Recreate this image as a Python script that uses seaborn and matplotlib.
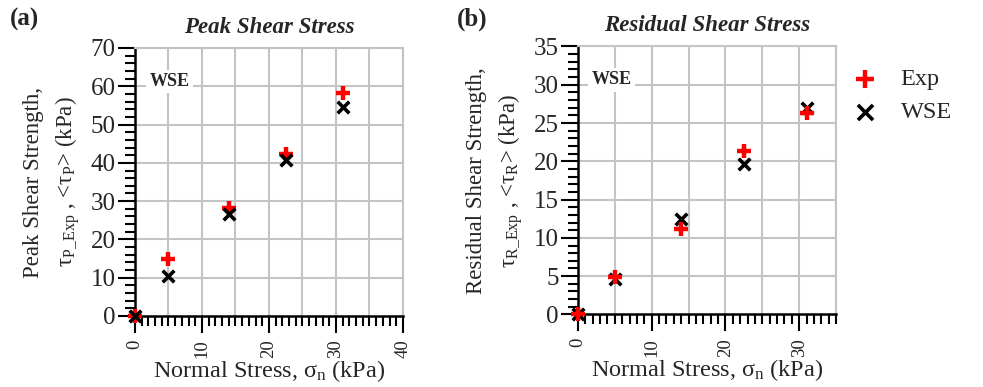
import numpy as np
import pandas as pd
import matplotlib
matplotlib.use("Agg")
import matplotlib.pyplot as plt
import seaborn as sns

sns.set_style("white")
plt.rcParams['font.family'] = ['Liberation Serif', 'DejaVu Serif']
plt.rcParams['mathtext.fontset'] = 'custom'
plt.rcParams['mathtext.rm'] = 'Liberation Serif'
plt.rcParams['mathtext.it'] = 'Liberation Serif:italic'

# values
sigma_n = [0, 5, 14, 22.5, 31]
peak_exp = [0, 15.0, 28.2, 42.2, 58.2]
peak_wse = [0, 10.4, 26.6, 40.8, 54.5]
resid_exp = [0, 4.9, 11.2, 21.3, 26.3]
resid_wse = [0, 4.6, 12.5, 19.7, 27.0]

peak = pd.DataFrame({'sigma': sigma_n, 'Exp': peak_exp, 'WSE': peak_wse})
resid = pd.DataFrame({'sigma': sigma_n, 'Exp': resid_exp, 'WSE': resid_wse})

fig = plt.figure(figsize=(9.83, 3.87), dpi=100)
ax1 = fig.add_axes([0.1373, 0.1835, 0.2726, 0.6925])
ax2 = fig.add_axes([0.588, 0.1875, 0.2625, 0.6925])

grid_c = '#c4c4c4'


def style_axis(ax, xmax, ymax, ymaj, ymin, ygrid):
    ax.set_xlim(0, xmax)
    ax.set_ylim(0, ymax)
    for v in np.arange(5, xmax + 0.1, 5):
        ax.axvline(v, color=grid_c, lw=1.5, zorder=0)
    for v in np.arange(ygrid, ymax + 0.1, ygrid):
        ax.axhline(v, color=grid_c, lw=1.5, zorder=0)
    ax.set_xticks(np.arange(0, xmax + 0.1, 10))
    ax.set_xticks(np.arange(0, xmax + 0.1, 1), minor=True)
    ax.set_yticks(np.arange(0, ymax + 0.1, ymaj))
    ax.set_yticks(np.arange(0, ymax + 0.1, ymin), minor=True)
    ax.tick_params(axis='both', which='major', direction='out', length=12,
                   width=1.5, color='black', left=True, bottom=True)
    ax.tick_params(axis='both', which='minor', direction='out', length=7.5,
                   width=1.5, color='black', left=True, bottom=True)
    ax.tick_params(axis='x', which='major', labelrotation=90, pad=5, labelsize=13.5)
    ax.tick_params(axis='y', which='major', pad=2, labelsize=18)
    for s in ['left', 'bottom']:
        ax.spines[s].set_color('black')
        ax.spines[s].set_linewidth(1.8)
    for s in ['top', 'right']:
        ax.spines[s].set_color(grid_c)
        ax.spines[s].set_linewidth(1.5)
    ax.text(0.13, 0.875, 'WSE', transform=ax.transAxes, ha='center', va='center',
            fontsize=13, fontweight='bold',
            bbox=dict(facecolor='white', edgecolor='none', pad=2.5))
    ax.set_xlabel('Normal Stress, σ' + r'$_{\mathrm{n}}$ (kPa)', fontsize=17.5, labelpad=0)


# panel (a)
sns.scatterplot(data=peak, x='sigma', y='Exp', ax=ax1, marker='+', s=110,
                color='red', linewidth=3.2, label='Exp', legend=False, zorder=3, clip_on=False)
sns.scatterplot(data=peak, x='sigma', y='WSE', ax=ax1, marker='x', s=70,
                color='black', linewidth=2.6, label='WSE', legend=False, zorder=4, clip_on=False)
style_axis(ax1, 40, 70, 10, 2, 10)
ax1.set_ylabel('Peak Shear Strength,\n' + 'τ' + r'$_{\mathrm{P\_Exp}}$ , <τ$_{\mathrm{P}}$> (kPa)',
               fontsize=16.5, labelpad=6, linespacing=1.5)
ax1.set_title('Peak Shear Stress', fontsize=16.5, fontweight='bold', fontstyle='italic', pad=11)

# panel (b)
sns.scatterplot(data=resid, x='sigma', y='WSE', ax=ax2, marker='x', s=70,
                color='black', linewidth=2.6, label='WSE', legend=False, zorder=3, clip_on=False)
sns.scatterplot(data=resid, x='sigma', y='Exp', ax=ax2, marker='+', s=110,
                color='red', linewidth=3.2, label='Exp', legend=False, zorder=4, clip_on=False)
style_axis(ax2, 35, 35, 5, 1, 5)
ax2.set_ylabel('Residual Shear Strength,\n' + 'τ' + r'$_{\mathrm{R\_Exp}}$ , <τ$_{\mathrm{R}}$> (kPa)',
               fontsize=16.5, labelpad=6, linespacing=1.5)
ax2.set_title('Residual Shear Stress', fontsize=16.5, fontweight='bold', fontstyle='italic', pad=11)

fig.text(0.010, 0.935, '(a)', fontsize=18, fontweight='bold')
fig.text(0.465, 0.935, '(b)', fontsize=18, fontweight='bold')

h, l = ax1.get_legend_handles_labels()
fig.legend(h, l, loc='upper left', bbox_to_anchor=(0.842, 0.88), frameon=False,
           fontsize=17.5, handletextpad=0.8, labelspacing=0.45, handlelength=1.3,
           markerscale=1.3)

fig.savefig('out.png', dpi=100)
